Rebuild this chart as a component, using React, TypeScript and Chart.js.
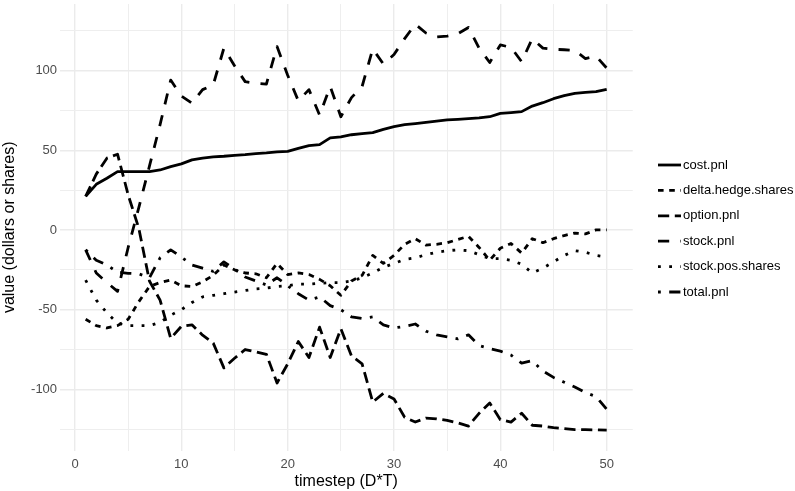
import React, { useEffect, useRef } from "react";
import { Chart, registerables } from "chart.js";

Chart.register(...registerables);

// ---- data ----
const timesteps = [1, 2, 3, 4, 5, 6, 7, 8, 9, 10, 11, 12, 13, 14, 15, 16, 17, 18, 19, 20, 21, 22, 23, 24, 25, 26, 27, 28, 29, 30, 31, 32, 33, 34, 35, 36, 37, 38, 39, 40, 41, 42, 43, 44, 45, 46, 47, 48, 49, 50];

const costPnl = [21, 28.6, 32.4, 36.6, 36.6, 36.6, 36.6, 37.6, 39.7, 41.4, 43.9, 45.1, 45.8, 46.2, 46.8, 47.2, 47.9, 48.3, 48.9, 49.3, 51.2, 52.9, 53.5, 57.7, 58.3, 59.7, 60.4, 61, 63.1, 64.8, 66, 66.7, 67.5, 68.3, 69, 69.4, 69.8, 70.3, 71, 73.1, 73.6, 74.2, 77.7, 79.8, 82.3, 84.2, 85.7, 86.3, 86.7, 88.2];

const deltaHedgeShares = [-56, -60, -61.5, -60, -56, -45, -35.5, -33, -31.5, -35, -35.5, -32.5, -28.5, -22, -25, -27, -27.5, -30, -21, -28, -27, -28, -31, -35, -41, -32, -28.5, -16, -21, -16, -9, -5.5, -9.5, -9, -8, -6, -4, -11, -19, -11.5, -8.5, -14.5, -5.5, -8, -5.5, -3.5, -2, -2.5, 0, 0];

const optionPnl = [21, 35, 45, 47.5, 22, 1, -32, -44, -68, -60.5, -59.5, -66, -71, -86.5, -80.5, -75, -76.5, -78, -96, -84, -70, -80, -61, -80, -62, -79, -84, -108, -102.5, -106, -117.5, -120.5, -118, -118.5, -119.5, -121, -123, -115, -108.5, -119, -120.5, -115, -122.5, -123, -124, -124.6, -125.2, -125.3, -125.4, -125.6];

const stockPnl = [-12.5, -27, -33, -38.5, -11, 14, 40, 66, 94, 84, 79.5, 88, 91, 114, 103, 93, 92, 91.5, 115, 97, 81, 88, 72, 90, 71, 83, 90, 113.5, 104, 110, 120, 129, 123.5, 121, 121.5, 123, 127, 114, 105, 116, 114.5, 105.5, 120, 114, 113.3, 113, 112.5, 107.5, 109, 101.5];

const stockPosShares = [-31.5, -44, -52, -58.5, -60, -60, -60, -58, -53.5, -50, -45.5, -42, -41, -40, -39, -38, -37, -36.5, -35.5, -35, -34, -34, -33.5, -33, -33, -32, -30, -27, -23.5, -21, -18.5, -17.5, -15.5, -14, -13, -12.5, -13, -15.5, -18, -18, -19, -21.5, -27, -24, -20, -16, -13, -14, -16, -17];

const totalPnl = [-12.5, -19, -22, -26.5, -27.2, -27.5, -30, -17.5, -12.5, -17, -22, -24, -26, -20, -24.5, -29.5, -32, -34.5, -30, -35, -40, -44, -42, -47.5, -50, -54.5, -55.5, -54.5, -59.5, -61.5, -60.5, -59, -63.5, -65.8, -67, -68.3, -65.8, -72.5, -74.5, -76, -78.5, -83.5, -82, -88.5, -92.5, -95.5, -98.5, -102, -104.5, -112.5];

const seriesNames = ["cost.pnl", "delta.hedge.shares", "option.pnl", "stock.pnl", "stock.pos.shares", "total.pnl"];
const seriesValues = [costPnl, deltaHedgeShares, optionPnl, stockPnl, stockPosShares, totalPnl];

const xGridTicks = [0, 5, 10, 15, 20, 25, 30, 35, 40, 45, 50];
const yGridTicks = [-125, -100, -75, -50, -25, 0, 25, 50, 75, 100, 125];

// ---- style ----
const LW = 2.8;
const dashUnits = [[], [2, 2], [4, 2], [4, 4], [1, 3], [1, 3, 4, 3]];
const FONT = '"Liberation Sans", Arial, Helvetica, sans-serif';

const legendPlugin = {
  id: "ggLegend",
  afterDraw(chart: any) {
    const ctx = chart.ctx;
    ctx.save();
    chart.data.datasets.forEach((ds: any, i: number) => {
      const y = 165 + i * 25.4;
      ctx.strokeStyle = "#000";
      ctx.lineWidth = LW;
      ctx.lineCap = "butt";
      ctx.setLineDash(ds.borderDash || []);
      ctx.beginPath();
      ctx.moveTo(658, y);
      ctx.lineTo(681, y);
      ctx.stroke();
      ctx.setLineDash([]);
      ctx.fillStyle = "#000";
      ctx.font = `13px ${FONT}`;
      ctx.textAlign = "left";
      ctx.textBaseline = "middle";
      ctx.fillText(ds.label, 683, y);
    });
    ctx.restore();
  },
};

export default function App() {
  const canvasRef = useRef<HTMLCanvasElement | null>(null);

  useEffect(() => {
    if (!canvasRef.current) return;
    Chart.defaults.font.family = FONT;
    const datasets = seriesNames.map((name, k) => ({
      label: name,
      data: timesteps.map((t, i) => ({ x: t, y: seriesValues[k][i] })),
      borderColor: "#000000",
      backgroundColor: "#000000",
      borderWidth: LW,
      borderDash: dashUnits[k].map((u) => u * LW),
      borderCapStyle: "butt" as const,
      borderJoinStyle: "round" as const,
      pointRadius: 0,
      pointHoverRadius: 0,
      tension: 0,
      fill: false,
    }));

    const chart = new Chart(canvasRef.current, {
      type: "line",
      data: { datasets },
      plugins: [legendPlugin],
      options: {
        animation: false,
        responsive: false,
        devicePixelRatio: 1,
        layout: { padding: { left: 0, top: 4, right: 162.25, bottom: 0 } },
        plugins: { legend: { display: false }, tooltip: { enabled: false } },
        scales: {
          x: {
            type: "linear",
            min: -1.45,
            max: 52.45,
            afterBuildTicks: (s: any) => {
              s.ticks = xGridTicks.map((v) => ({ value: v }));
            },
            afterFit: (s: any) => {
              s.height = 40.4;
              s.paddingLeft = 0;
              s.paddingRight = 0;
            },
            border: { display: false },
            grid: {
              drawTicks: false,
              color: (c: any) => (c.tick && c.tick.value % 10 === 0 ? "#EBEBEB" : "#EEEEEE"),
              lineWidth: (c: any) => (c.tick && c.tick.value % 10 === 0 ? 1.4 : 1.0),
            },
            ticks: {
              autoSkip: false,
              maxRotation: 0,
              padding: 5.6,
              color: "#4D4D4D",
              font: { size: 13, family: FONT },
              callback: (v: any) => (Number(v) % 10 === 0 ? String(v) : ""),
            },
            title: {
              display: true,
              text: "timestep (D*T)",
              color: "#000",
              font: { size: 16, family: FONT },
              padding: { top: 0, bottom: 0 },
            },
          },
          y: {
            type: "linear",
            min: -138.4,
            max: 141.7,
            afterBuildTicks: (s: any) => {
              s.ticks = yGridTicks.map((v) => ({ value: v }));
            },
            afterFit: (s: any) => {
              s.width = 59.58;
              s.paddingTop = 0;
              s.paddingBottom = 0;
            },
            border: { display: false },
            grid: {
              drawTicks: false,
              color: (c: any) => (c.tick && c.tick.value % 50 === 0 ? "#EBEBEB" : "#EEEEEE"),
              lineWidth: (c: any) => (c.tick && c.tick.value % 50 === 0 ? 1.4 : 1.0),
            },
            ticks: {
              autoSkip: false,
              padding: 2.5,
              color: "#4D4D4D",
              font: { size: 13, family: FONT },
              callback: (v: any) => (Number(v) % 50 === 0 ? String(v) : ""),
            },
            title: {
              display: true,
              text: "value (dollars or shares)",
              color: "#000",
              font: { size: 16, family: FONT },
              padding: { top: 0, bottom: 0 },
            },
          },
        },
      },
    });
    return () => chart.destroy();
  }, []);

  return (
    <div style={{ position: "fixed", left: 0, top: 0, width: 795, height: 491, background: "#fff" }}>
      <canvas ref={canvasRef} width={795} height={491} style={{ display: "block" }} />
    </div>
  );
}
